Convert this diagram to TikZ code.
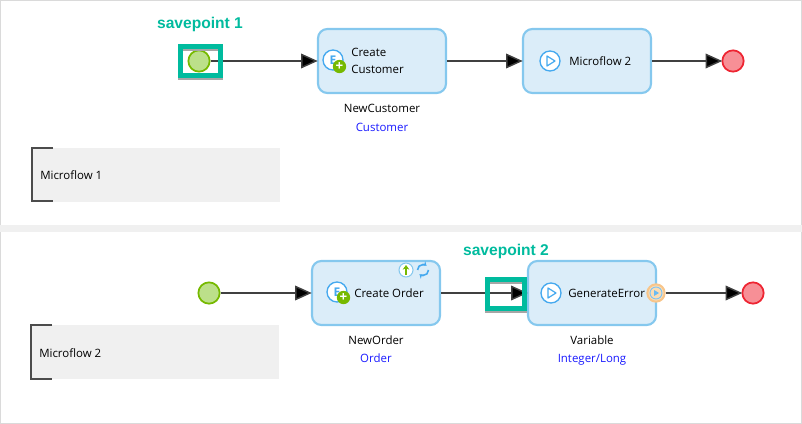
\documentclass[tikz,border=0pt]{standalone}
\usepackage{fontspec}
\setmainfont{Open Sans}
\newfontfamily\labelfont{Liberation Sans}
\usepackage{xcolor}
\usetikzlibrary{arrows.meta}
\definecolor{actionfill}{HTML}{DBEDF9}
\definecolor{actionline}{HTML}{85C8EE}
\definecolor{iconblue}{HTML}{45A9EF}
\definecolor{startfill}{HTML}{BCE08A}
\definecolor{startline}{HTML}{76B900}
\definecolor{endfill}{HTML}{F78F96}
\definecolor{endline}{HTML}{EE2532}
\definecolor{savecolor}{HTML}{00BB9E}
\definecolor{notefill}{HTML}{F0F0F0}
\definecolor{framegray}{HTML}{DADADA}
\definecolor{errorline}{HTML}{F8C58A}
\definecolor{errorfill}{HTML}{FBDDB5}
\tikzset{
    actionbox/.style={draw=actionline, fill=actionfill, line width=1.6pt, rounded corners=7pt,
        minimum width=96pt, minimum height=48pt},
    startevent/.style={circle, draw=startline, fill=startfill, line width=1.3pt, minimum size=16pt, inner sep=0pt},
    endevent/.style={circle, draw=endline, fill=endfill, line width=1.3pt, minimum size=16pt, inner sep=0pt},
    iconring/.style={circle, draw=iconblue, fill=white, line width=1pt, minimum size=15pt, inner sep=0pt},
    plusbadge/.style={circle, fill=startline, minimum size=10pt, inner sep=0pt, text=white, font=\bfseries\fontsize{10}{10}\selectfont},
    flow/.style={draw=black!75, line width=1.1pt, shorten >=-0.6pt, -{Triangle[length=12.5pt,width=11pt,fill=black]}},
    boxtext/.style={font=\fontsize{8.6}{12.3}\selectfont, align=left, anchor=west, inner sep=0pt},
    captext/.style={font=\fontsize{8.6}{10}\selectfont, inner sep=0pt, text height=6.5pt, text depth=1.8pt},
    typetext/.style={captext, text=blue!90!white},
    savebox/.style={draw=savecolor, line width=4pt, inner sep=0pt},
    saveshade/.style={draw=black!35, line width=4pt, inner sep=0pt},
    savetext/.style={font=\labelfont\bfseries\fontsize{11.7}{12}\selectfont, text=savecolor},
    notebox/.style={fill=notefill, minimum width=186pt, minimum height=40pt, inner sep=0pt, anchor=north west},
    notebracket/.style={draw=black!70, line width=0.8pt},
}
\begin{document}
\begin{tikzpicture}
    \tikzset{x={(0.75pt, 0pt)}, y={(0pt, -0.75pt)}}
    \useasboundingbox (0, 0) rectangle (802, 424);
    % frame and divider
    \draw[framegray, line width=1pt] (0.5, 0.5) rectangle (801.5, 423.5);
    \fill[notefill] (0, 225) rectangle (802, 232);

    % upper microflow
    \node[actionbox] (createcustomer) at (382, 61) {};
    \node[actionbox] (microflowtwo) at (587, 61) {};
    \node[startevent] (starttop) at (199, 61) {};
    \node[endevent] (endtop) at (733, 61) {};
    \node[iconring] (customericon) at (333, 60) {\bfseries\fontsize{9}{9}\selectfont\color{iconblue}E};
    \node[plusbadge] (customerplus) at (339.5, 66.5) {+};
    \node[iconring] (microflowicon) at (550, 61) {};
    \fill[fill=white, draw=iconblue, line width=0.9pt, line join=round] (547, 56) -- (555, 61) -- (547, 66) -- cycle;
    \node[boxtext] (customertext) at (351, 61) {Create\\Customer};
    \node[boxtext] (microflowtext) at (569, 61) {Microflow 2};
    \node[captext] (newcustomer) at (382, 109) {NewCustomer};
    \node[typetext] (customertype) at (382, 128) {Customer};
    \draw[flow] (starttop) -- (createcustomer);
    \draw[flow] (createcustomer) -- (microflowtwo);
    \draw[flow] (microflowtwo) -- (endtop);
    \node[saveshade, minimum width=30pt, minimum height=22pt] (shadeone) at (200.5, 63) {};
    \node[savebox, minimum width=30pt, minimum height=22pt] (saveone) at (200.5, 61) {};
    \node[savetext] (saveonetext) at (200, 24) {savepoint 1};
    \node[notebox] (noteone) at (32, 148) {};
    \draw[notebracket] (53, 148) -- (32, 148) -- (32, 201) -- (53, 201);
    \node[boxtext] (noteonetext) at (40, 175) {Microflow 1};

    % lower microflow
    \node[actionbox] (createorder) at (376, 293) {};
    \node[actionbox] (generateerror) at (592, 293) {};
    \node[startevent] (startlow) at (209, 293) {};
    \node[endevent] (endlow) at (753, 293) {};
    \node[iconring] (ordericon) at (337, 292) {\bfseries\fontsize{9}{9}\selectfont\color{iconblue}E};
    \node[plusbadge] (orderplus) at (343.5, 297.5) {+};
    \node[circle, draw=actionline, fill=white, line width=0.8pt, minimum size=10.5pt, inner sep=0pt] (uploadicon) at (406, 270) {};
    \draw[startline, line width=1pt, -{Stealth[length=3.5pt,width=5pt]}] (406, 275) -- (406, 265);
    \node[circle, minimum size=1pt, inner sep=0pt] (refreshicon) at (423, 270) {};
    \draw[iconblue, line width=1.2pt, -{Stealth[length=3pt,width=4pt]}] (428.5, 270) arc (0:130:5.5);
    \draw[iconblue, line width=1.2pt, -{Stealth[length=3pt,width=4pt]}] (417.5, 270) arc (180:310:5.5);
    \node[iconring] (erroricon) at (551, 293) {};
    \fill[fill=white, draw=iconblue, line width=0.9pt, line join=round] (548, 288) -- (556, 293) -- (548, 298) -- cycle;
    \node[boxtext] (ordertext) at (354, 293) {Create Order};
    \node[boxtext] (errortext) at (568, 293) {GenerateError};
    \node[captext] (neworder) at (376, 341) {NewOrder};
    \node[typetext] (ordertype) at (376, 359) {Order};
    \node[captext] (variable) at (592, 341) {Variable};
    \node[typetext] (errortype) at (592, 359) {Integer/Long};
    \node[circle, draw=errorline, fill=errorfill, line width=1.5pt, minimum size=13pt, inner sep=0pt] (boundary) at (656, 293) {};
    \node[circle, draw=iconblue!70, line width=0.7pt, minimum size=9pt, inner sep=0pt] (boundaryicon) at (656, 293) {};
    \fill[iconblue!80] (654, 290) -- (659, 293) -- (654, 296) -- cycle;
    \draw[flow] (startlow) -- (createorder);
    \draw[flow] (createorder) -- (generateerror);
    \draw[flow] (boundary) -- (endlow);
    \node[saveshade, minimum width=27.5pt, minimum height=22pt] (shadetwo) at (506, 296) {};
    \node[savebox, minimum width=27.5pt, minimum height=22pt] (savetwo) at (506, 294) {};
    \node[savetext] (savetwotext) at (506, 251) {savepoint 2};
    \node[notebox] (notetwo) at (31, 325) {};
    \draw[notebracket] (52, 325) -- (31, 325) -- (31, 379) -- (52, 379);
    \node[boxtext] (notetwotext) at (39, 353) {Microflow 2};
\end{tikzpicture}
\end{document}
